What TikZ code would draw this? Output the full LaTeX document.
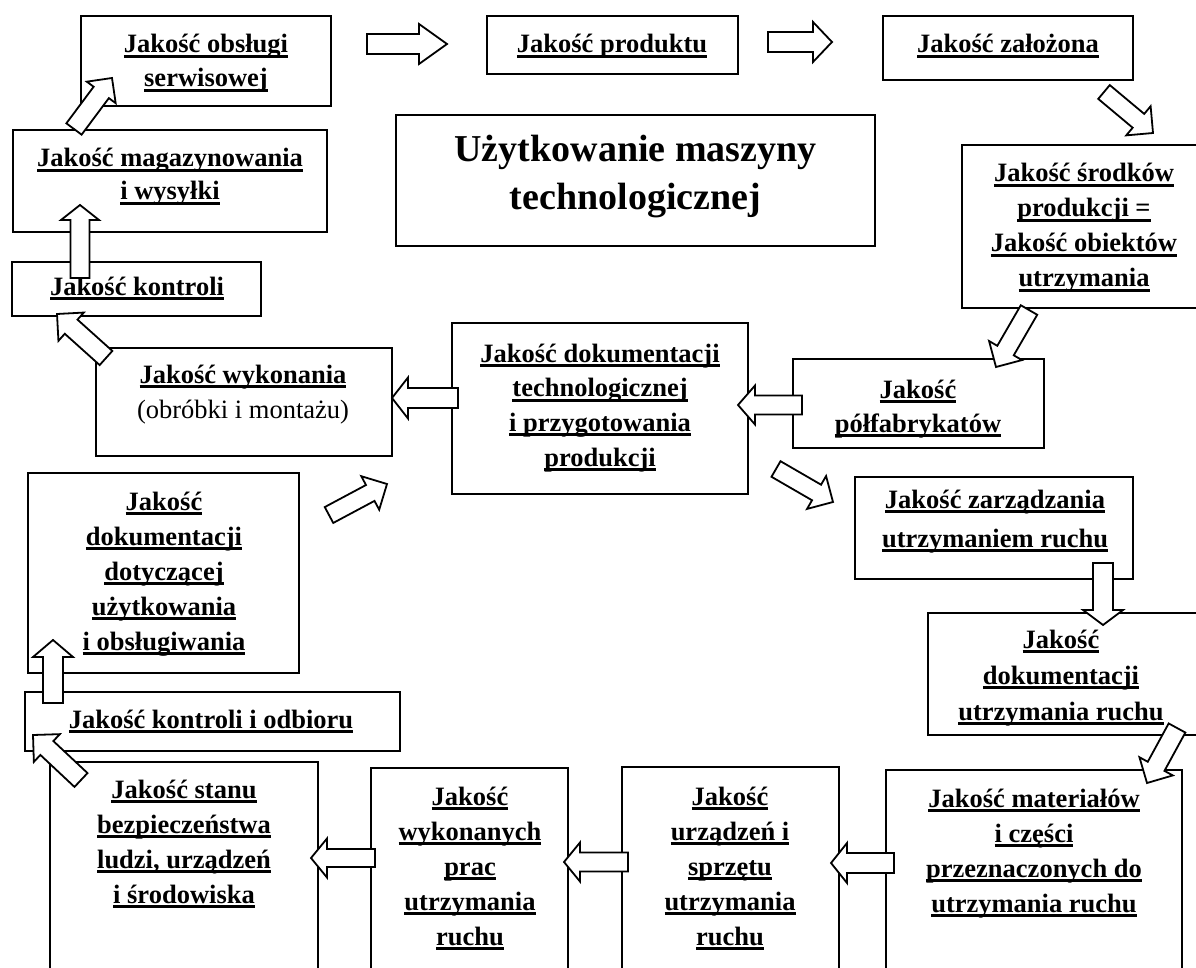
\documentclass[tikz,border=0pt]{standalone}
\usepackage{fontspec}
\setmainfont{Liberation Serif}
\usetikzlibrary{calc}

% thick underline under one line of text
\newsavebox\ulbox
\newcommand\ulin[1]{\sbox\ulbox{#1}\rlap{\rule[-5pt]{\wd\ulbox}{3pt}}\usebox\ulbox}

\tikzset{
  box/.style={draw, line width=2pt, inner sep=0pt, outer sep=0pt},
  txt/.style={inner sep=0pt, anchor=base, font=\bfseries\fontsize{26.5}{32}\selectfont},
  bigtxt/.style={inner sep=0pt, anchor=base, font=\bfseries\fontsize{38}{46}\selectfont},
  plaintxt/.style={inner sep=0pt, anchor=base, font=\fontsize{26.5}{32}\selectfont},
  blockarr/.style={draw, line width=1.8pt, fill=white, line join=miter},
}

% rectangle node given by its corners: name, x1, y1, x2, y2
\newcommand\boxat[5]{%
  \node[box, minimum width={#4-#2}, minimum height={#5-#3}]
    (#1) at ({(#2+#4)/2},{(#3+#5)/2}) {};}

% centred underlined lines: name, x, first baseline, line step, list of lines
\newcommand\txtlines[5]{%
  \foreach \lineitem [count=\i from 0] in {#5}
    {\node[txt] (#1-\i) at (#2,{#3+\i*#4}) {\ulin{\lineitem}};}}

% hollow block arrow: tail, tip, half shaft width, half head width, head length
\newcommand\blockarrow[5]{%
  \coordinate (ba-base) at ($(#2)!#5pt!(#1)$);
  \draw[blockarr]
    ($(#1)!#3pt!90:(#2)$) -- ($(ba-base)!#3pt!90:(#2)$) --
    ($(ba-base)!#4pt!90:(#2)$) -- (#2) --
    ($(ba-base)!#4pt!-90:(#2)$) -- ($(ba-base)!#3pt!-90:(#2)$) --
    ($(#1)!#3pt!-90:(#2)$) -- cycle;}

\begin{document}
\begin{tikzpicture}[x=1pt, y=-1pt]
\useasboundingbox (0,0) rectangle (1196,968);
\clip (0,0) rectangle (1196,968);

% ---- boxes ----
\boxat{obs}{81}{16}{331}{106}
\boxat{prod}{487}{16}{738}{74}
\boxat{zal}{883}{16}{1133}{80}
\boxat{srod}{962}{145}{1206}{308}
\boxat{title}{396}{115}{875}{246}
\boxat{mag}{13}{130}{327}{232}
\boxat{kon}{12}{262}{261}{316}
\boxat{wyk}{96}{348}{392}{456}
\boxat{doktech}{452}{323}{748}{494}
\boxat{polf}{793}{359}{1044}{448}
\boxat{zarz}{855}{477}{1133}{579}
\boxat{dokutr}{928}{613}{1200}{735}
\boxat{dokuz}{28}{473}{299}{673}
\boxat{konodb}{25}{692}{400}{751}
\boxat{stanu}{50}{762}{318}{990}
\boxat{wykon}{371}{768}{568}{990}
\boxat{urz}{622}{767}{839}{990}
\boxat{mat}{886}{770}{1182}{990}

% ---- texts ----
\txtlines{obs}{206}{53}{34}{Jakość obsługi,serwisowej}
\txtlines{prod}{612}{53}{35}{Jakość produktu}
\txtlines{zal}{1008}{53}{35}{Jakość założona}
\txtlines{srod}{1084}{182}{35}{Jakość środków,produkcji =,Jakość obiektów,utrzymania}
\node[bigtxt] (title-0) at (635.5,162) {Użytkowanie maszyny};
\node[bigtxt] (title-1) at (635.5,210) {technologicznej};
\txtlines{mag}{170}{167}{33}{Jakość magazynowania,i wysyłki}
\txtlines{kon}{137}{295}{35}{Jakość kontroli}
\txtlines{wyk}{243}{383}{35}{Jakość wykonania}
\node[plaintxt] (wyk-1) at (243,418) {(obróbki i montażu)};
\txtlines{doktech}{600}{362}{34.7}{Jakość dokumentacji,technologicznej,i przygotowania,produkcji}
\txtlines{polf}{918}{398}{34}{Jakość,półfabrykatów}
\txtlines{zarz}{995}{508}{39}{Jakość zarządzania,utrzymaniem ruchu}
\txtlines{dokutr}{1061}{648}{36}{Jakość,dokumentacji,utrzymania ruchu}
\txtlines{dokuz}{164}{510}{35}{Jakość,dokumentacji,dotyczącej,użytkowania,i obsługiwania}
\txtlines{konodb}{211}{728}{35}{Jakość kontroli i odbioru}
\txtlines{stanu}{184}{798}{35}{Jakość stanu,bezpieczeństwa,{ludzi, urządzeń},i środowiska}
\txtlines{wykon}{470}{805}{35}{Jakość,wykonanych,prac,utrzymania,ruchu}
\txtlines{urz}{730}{805}{35}{Jakość,urządzeń i,sprzętu,utrzymania,ruchu}
\txtlines{mat}{1034}{807}{35}{Jakość materiałów,i części,przeznaczonych do,utrzymania ruchu}

% ---- arrow ends ----
\coordinate (a1s) at (74,129);   \coordinate (a1e) at (112,78);
\coordinate (a2s) at (367,44);   \coordinate (a2e) at (447,44);
\coordinate (a3s) at (768,42);   \coordinate (a3e) at (832,42);
\coordinate (a4s) at (1104,92);  \coordinate (a4e) at (1153,133);
\coordinate (a5s) at (1029,310); \coordinate (a5e) at (996,367);
\coordinate (a6s) at (802,405);  \coordinate (a6e) at (738,405);
\coordinate (a7s) at (458,398);  \coordinate (a7e) at (392,398);
\coordinate (a8s) at (106,358);  \coordinate (a8e) at (57,314);
\coordinate (a9s) at (80,278);   \coordinate (a9e) at (80,205);
\coordinate (a10s) at (776,469); \coordinate (a10e) at (833,502);
\coordinate (a11s) at (1103,563);\coordinate (a11e) at (1103,625);
\coordinate (a12s) at (1177,728);\coordinate (a12e) at (1147,783);
\coordinate (a13s) at (894,863); \coordinate (a13e) at (831,863);
\coordinate (a14s) at (628,862); \coordinate (a14e) at (564,862);
\coordinate (a15s) at (375,858); \coordinate (a15e) at (311,858);
\coordinate (a16s) at (81,780);  \coordinate (a16e) at (33,735);
\coordinate (a17s) at (53,703);  \coordinate (a17e) at (53,640);
\coordinate (a18s) at (329,515); \coordinate (a18e) at (387,484);

% ---- block arrows ----
\blockarrow{a1s}{a1e}{9.5}{18}{18}
\blockarrow{a2s}{a2e}{10}{20}{28}
\blockarrow{a3s}{a3e}{10}{20}{19}
\blockarrow{a4s}{a4e}{9}{19}{19}
\blockarrow{a5s}{a5e}{9.5}{19}{19}
\blockarrow{a6s}{a6e}{9.5}{19.5}{17}
\blockarrow{a7s}{a7e}{10}{20.5}{16}
\blockarrow{a8s}{a8e}{9.5}{19}{19}
\blockarrow{a9s}{a9e}{9.5}{19}{15}
\blockarrow{a10s}{a10e}{9}{19}{19}
\blockarrow{a11s}{a11e}{10}{20}{15}
\blockarrow{a12s}{a12e}{9.5}{19}{19}
\blockarrow{a13s}{a13e}{10}{20}{16}
\blockarrow{a14s}{a14e}{9.5}{19.5}{16}
\blockarrow{a15s}{a15e}{9}{19.5}{16}
\blockarrow{a16s}{a16e}{9.5}{19}{19}
\blockarrow{a17s}{a17e}{10}{20}{17}
\blockarrow{a18s}{a18e}{9}{19}{19}
\end{tikzpicture}
\end{document}
